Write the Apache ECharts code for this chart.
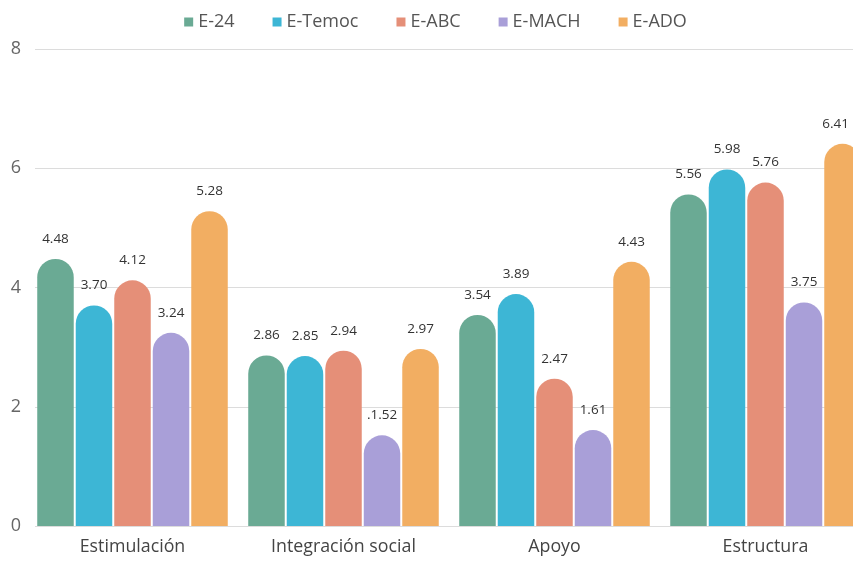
<!DOCTYPE html>
<html>
<head>
<meta charset="utf-8">
<script src="https://cdn.jsdelivr.net/npm/echarts@6/dist/echarts.min.js"></script>
<style>
  html, body { margin: 0; padding: 0; background: #fff; overflow: hidden; }
  body { width: 853px; height: 561px; }
  /* el lienzo es algo más ancho que la vista: la última barra queda recortada */
  #chart { width: 871px; height: 561px; }
</style>
</head>
<body>
<div id="chart"></div>
<script>
// Dimensiones evaluadas y puntajes promedio por escala
const categories = ['Estimulación', 'Integración social', 'Apoyo', 'Estructura'];
const seriesNames = ['E-24', 'E-Temoc', 'E-ABC', 'E-MACH', 'E-ADO'];
const e24    = [4.48, 2.86, 3.54, 5.56];
const eTemoc = [3.70, 2.85, 3.89, 5.98];
const eABC   = [4.12, 2.94, 2.47, 5.76];
const eMACH  = [3.24, 1.52, 1.61, 3.75];
const eADO   = [5.28, 2.97, 4.43, 6.41];
const yTicks = [0, 2, 4, 6, 8];

// Texto de etiqueta tal como aparece publicado (solo donde difiere del valor)
const labelText = { 'E-MACH|1': '.1.52' };

const colors = ['#6aaa94', '#3db6d5', '#e58f78', '#a99fd8', '#f2ae62'];
const values = [e24, eTemoc, eABC, eMACH, eADO];

const font = '"Open Sans", "Noto Sans", sans-serif';
const plotTop = 49, plotBottom = 35;
const viewWidth = 853;

const chart = echarts.init(document.getElementById('chart'), null, { renderer: 'canvas' });

const series = seriesNames.map((name, i) => ({
  name,
  type: 'bar',
  xAxisIndex: 0,
  yAxisIndex: 0,
  data: values[i],
  barWidth: 36.5,
  barGap: '5.5%',
  itemStyle: { color: colors[i], borderRadius: [18.25, 18.25, 0, 0] },
  label: {
    show: true,
    position: 'top',
    distance: 13,
    color: '#333',
    fontFamily: font,
    fontSize: 13.5,
    formatter: p => labelText[name + '|' + p.dataIndex] || p.value.toFixed(2)
  },
  // mantener las etiquetas dentro de la zona visible
  labelLayout: p => {
    const r = p.labelRect;
    if (r.x + r.width > viewWidth - 4) {
      return { x: viewWidth - 4 - r.width / 2, y: r.y + r.height / 2, align: 'center', verticalAlign: 'middle' };
    }
    return {};
  }
}));

chart.setOption({
  animation: false,
  backgroundColor: '#fff',
  legend: {
    top: 8,
    left: 'center',
    itemWidth: 9,
    itemHeight: 9,
    itemGap: 38,
    icon: 'rect',
    textStyle: { color: '#555', fontFamily: font, fontSize: 18 },
    data: seriesNames
  },
  color: colors,
  grid: [
    // barras
    { left: 27, right: 0, top: plotTop, bottom: plotBottom },
    // líneas de referencia y escala de valores
    { left: 35, right: 0, top: plotTop, bottom: plotBottom }
  ],
  xAxis: [
    {
      gridIndex: 0,
      type: 'category',
      data: categories,
      axisLine: { show: false },
      axisTick: { show: false },
      axisLabel: { color: '#444', fontFamily: font, fontSize: 17.8, margin: 12 }
    },
    { gridIndex: 1, type: 'value', show: false, min: 0, max: 1 }
  ],
  yAxis: [
    { gridIndex: 0, type: 'value', min: yTicks[0], max: yTicks[yTicks.length - 1], interval: 2, show: false },
    {
      gridIndex: 1,
      type: 'value',
      min: yTicks[0],
      max: yTicks[yTicks.length - 1],
      interval: 2,
      axisLine: { show: false },
      axisTick: { show: false },
      axisLabel: { color: '#666', fontFamily: font, fontSize: 18, margin: 14 },
      splitLine: { lineStyle: { color: '#dcdcdc', width: 1 } }
    }
  ],
  series
});
</script>
</body>
</html>
